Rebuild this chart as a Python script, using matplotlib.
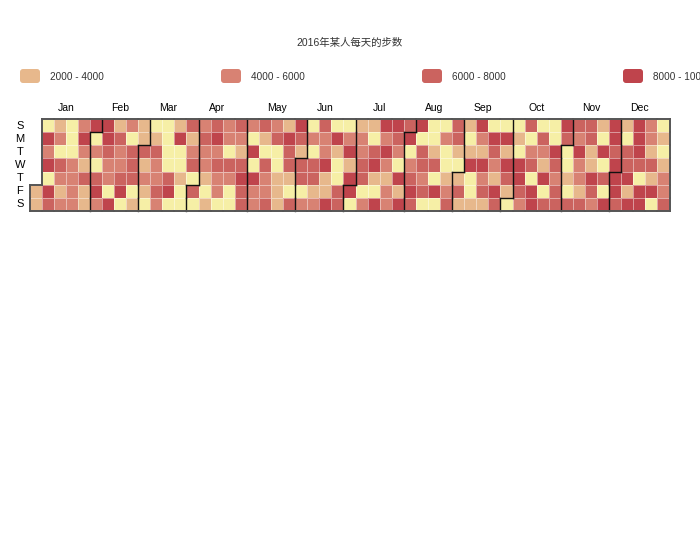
import datetime
import numpy as np
import matplotlib
matplotlib.use("Agg")
import matplotlib.pyplot as plt
from matplotlib.colors import ListedColormap, BoundaryNorm
from matplotlib.patches import FancyBboxPatch

plt.rcParams['font.family'] = ['Liberation Sans', 'Noto Sans CJK SC', 'DejaVu Sans']

title = "2016年某人每天的步数"
year = 2016
# daily steps, 2016-01-01 .. 2016-12-31, listed week by week (Sunday-first weeks)
daily_steps = [
    3000, 3000,
    1000, 9000, 5000, 9000, 1000, 9000, 7000,
    3000, 5000, 1000, 7000, 5000, 3000, 5000,
    1000, 1000, 1000, 5000, 5000, 5000, 5000,
    5000, 9000, 5000, 3000, 7000, 3000, 3000,
    9000, 1000, 5000, 1000, 7000, 9000, 5000,
    9000, 9000, 7000, 5000, 5000, 1000, 9000,
    3000, 7000, 5000, 5000, 7000, 9000, 1000,
    5000, 1000, 7000, 7000, 7000, 1000, 3000,
    3000, 3000, 7000, 3000, 5000, 3000, 1000,
    1000, 3000, 7000, 5000, 5000, 7000, 5000,
    1000, 1000, 1000, 1000, 7000, 9000, 1000,
    3000, 9000, 1000, 1000, 3000, 1000, 1000,
    7000, 3000, 5000, 7000, 1000, 7000, 1000,
    5000, 7000, 5000, 5000, 3000, 1000, 3000,
    7000, 9000, 5000, 7000, 5000, 5000, 1000,
    5000, 5000, 1000, 7000, 5000, 1000, 1000,
    7000, 5000, 3000, 7000, 9000, 7000, 7000,
    5000, 1000, 9000, 1000, 9000, 5000, 5000,
    7000, 3000, 1000, 7000, 5000, 5000, 7000,
    5000, 7000, 1000, 1000, 3000, 3000, 3000,
    3000, 9000, 7000, 7000, 3000, 1000, 7000,
    9000, 7000, 3000, 7000, 7000, 1000, 5000,
    1000, 5000, 1000, 7000, 7000, 3000, 5000,
    7000, 5000, 5000, 9000, 3000, 3000, 9000,
    1000, 9000, 3000, 1000, 1000, 7000, 7000,
    1000, 5000, 9000, 3000, 9000, 9000, 1000,
    3000, 5000, 5000, 7000, 7000, 1000, 5000,
    3000, 1000, 7000, 9000, 3000, 1000, 9000,
    9000, 5000, 9000, 5000, 3000, 5000, 5000,
    9000, 7000, 5000, 1000, 9000, 3000, 9000,
    7000, 9000, 1000, 5000, 7000, 9000, 7000,
    9000, 1000, 7000, 7000, 5000, 7000, 1000,
    1000, 1000, 3000, 7000, 1000, 9000, 1000,
    1000, 5000, 1000, 1000, 3000, 5000, 7000,
    7000, 7000, 3000, 1000, 3000, 7000, 3000,
    3000, 1000, 3000, 9000, 1000, 1000, 3000,
    9000, 5000, 3000, 9000, 5000, 7000, 3000,
    1000, 9000, 7000, 5000, 3000, 9000, 7000,
    1000, 9000, 3000, 9000, 7000, 3000, 1000,
    1000, 3000, 1000, 9000, 9000, 7000, 5000,
    7000, 1000, 5000, 7000, 1000, 9000, 9000,
    1000, 7000, 5000, 3000, 9000, 1000, 7000,
    1000, 1000, 9000, 7000, 5000, 7000, 7000,
    9000, 7000, 1000, 1000, 3000, 1000, 7000,
    7000, 5000, 9000, 5000, 5000, 3000, 7000,
    7000, 7000, 3000, 3000, 9000, 7000, 5000,
    3000, 1000, 9000, 1000, 7000, 1000, 9000,
    9000, 9000, 7000, 9000, 9000, 9000, 7000,
    3000, 1000, 7000, 7000, 9000, 3000, 9000,
    9000, 9000, 9000, 7000, 1000, 9000, 9000,
    5000, 5000, 3000, 7000, 3000, 9000, 1000,
    1000, 3000, 1000, 3000, 5000, 5000, 7000,
]
bins = [0, 2000, 4000, 6000, 8000, 10000]
piece_colors = ['#f6efa6', '#e7b88c', '#d88273', '#cb635f', '#bf444c']
legend_labels = ['2000 - 4000', '4000 - 6000', '6000 - 8000', '8000 - 10000']
legend_colors = piece_colors[1:]
day_labels = ['S', 'M', 'T', 'W', 'T', 'F', 'S']
month_labels = ['Jan', 'Feb', 'Mar', 'Apr', 'May', 'Jun',
                'Jul', 'Aug', 'Sep', 'Oct', 'Nov', 'Dec']

start = datetime.date(year, 1, 1)
ndays = len(daily_steps)
assert ndays == 366
offset = (start.weekday() + 1) % 7
ncols = (ndays + offset + 6) // 7

grid = np.full((7, ncols), np.nan)
month_grid = np.full((7, ncols), -1, dtype=int)
for i, v in enumerate(daily_steps):
    d = start + datetime.timedelta(days=i)
    p = i + offset
    grid[p % 7, p // 7] = v
    month_grid[p % 7, p // 7] = d.month - 1

W, H = 700, 560
fig = plt.figure(figsize=(W / 100, H / 100), dpi=100)

# whole-figure overlay (pixel coords) for title / legend
bg = fig.add_axes([0, 0, 1, 1])
bg.set_xlim(0, W)
bg.set_ylim(H, 0)
bg.axis('off')
bg.text(350, 43, title, ha='center', va='center', fontsize=7.5, color='#333333')
for i, (lab, col) in enumerate(zip(legend_labels, legend_colors)):
    x0 = 20 + i * 201
    bg.add_patch(FancyBboxPatch((x0 + 2, 71), 16, 10,
                                boxstyle="round,pad=2,rounding_size=3",
                                fc=col, ec='none'))
    bg.text(x0 + 30, 77, lab, ha='left', va='center', fontsize=7.2, color='#333333')

# calendar
cx0, cx1, cy0, cy1 = 29.5, 669.5, 119, 211
ax = fig.add_axes([cx0 / W, 1 - cy1 / H, (cx1 - cx0) / W, (cy1 - cy0) / H])
cmap = ListedColormap(piece_colors)
norm = BoundaryNorm(bins, cmap.N)
ax.pcolormesh(np.arange(ncols + 1), np.arange(8), np.ma.masked_invalid(grid),
              cmap=cmap, norm=norm, edgecolors=(1, 1, 1, 0.45), linewidth=0.6)
ax.set_xlim(0, ncols)
ax.set_ylim(7, 0)
ax.axis('off')

# month split lines and outer border
def seg(xs, ys, outer):
    ax.plot(xs, ys, color='#555555' if outer else '#111111',
            lw=1.4 if outer else 1.0, solid_capstyle='projecting', clip_on=False, zorder=5)

for r in range(7):
    for c in range(ncols):
        m = month_grid[r, c]
        if m < 0:
            continue
        # right edge
        nb = month_grid[r, c + 1] if c + 1 < ncols else -1
        if nb != m:
            seg([c + 1, c + 1], [r, r + 1], nb < 0)
        # left edge
        nb = month_grid[r, c - 1] if c - 1 >= 0 else -1
        if nb < 0:
            seg([c, c], [r, r + 1], True)
        # bottom edge
        nb = month_grid[r + 1, c] if r + 1 < 7 else -1
        if nb != m:
            seg([c, c + 1], [r + 1, r + 1], nb < 0)
        # top edge
        nb = month_grid[r - 1, c] if r - 1 >= 0 else -1
        if nb < 0:
            seg([c, c + 1], [r, r], True)

for m, lab in enumerate(month_labels):
    cols = np.where((month_grid == m).any(axis=0))[0]
    ax.text((cols.min() + cols.max() + 1) / 2, -0.84, lab, ha='center', va='center',
            fontsize=7.5, color='#000000', clip_on=False)
for r, lab in enumerate(day_labels):
    ax.text(-0.79, r + 0.5, lab, ha='center', va='center', fontsize=8,
            color='#000000', clip_on=False)

fig.savefig('out.png', dpi=100)
